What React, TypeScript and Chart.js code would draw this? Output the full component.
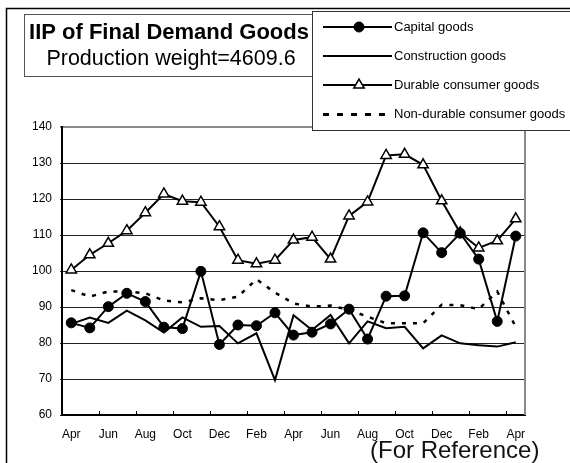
import React, { useEffect, useRef } from 'react';
import { Chart, registerables } from 'chart.js';

Chart.register(...registerables);

const months = ['Apr', 'May', 'Jun', 'Jul', 'Aug', 'Sep', 'Oct', 'Nov', 'Dec', 'Jan', 'Feb', 'Mar', 'Apr', 'May', 'Jun', 'Jul', 'Aug', 'Sep', 'Oct', 'Nov', 'Dec', 'Jan', 'Feb', 'Mar', 'Apr'];
const capitalGoods = [85.6, 84.2, 90.1, 93.8, 91.5, 84.4, 84.0, 99.9, 79.6, 85.0, 84.8, 88.4, 82.2, 83.0, 85.3, 89.4, 81.1, 93.0, 93.1, 110.6, 105.1, 110.5, 103.3, 86.0, 109.7];
const constructionGoods = [85.3, 87.1, 85.6, 89.0, 86.3, 82.9, 87.1, 84.5, 84.7, 79.9, 82.7, 69.7, 87.7, 83.6, 87.8, 79.9, 86.0, 84.1, 84.5, 78.5, 82.1, 79.9, 79.4, 79.0, 80.2];
const durableGoods = [100.3, 104.5, 107.7, 111.2, 116.2, 121.4, 119.4, 119.1, 112.3, 103.0, 102.0, 103.0, 108.6, 109.4, 103.3, 115.3, 119.2, 132.1, 132.4, 129.5, 119.5, 110.6, 106.4, 108.4, 114.5];
const nonDurableGoods = [94.7, 92.9, 94.3, 94.3, 93.8, 91.8, 91.3, 92.4, 91.9, 92.9, 97.7, 94.0, 91.0, 90.1, 90.4, 89.2, 87.3, 85.5, 85.5, 85.5, 90.6, 90.5, 89.4, 94.3, 84.5];
const yTicks = { min: 60, max: 140, step: 10 };

const titleText = 'IIP of Final Demand Goods';
const subtitleText = 'Production weight=4609.6';
const footerText = '(For Reference)';

const FONT = '"Liberation Sans", Arial, Helvetica, sans-serif';

function drawMarker(ctx: CanvasRenderingContext2D, style: string, x: number, y: number, r: number, fill: string, stroke: string, bw: number) {
  ctx.save();
  ctx.beginPath();
  if (style === 'circle') {
    ctx.arc(x, y, r, 0, Math.PI * 2);
  } else if (style === 'triangle') {
    let rad = 0;
    ctx.moveTo(x + Math.sin(rad) * r, y - Math.cos(rad) * r);
    rad += (2 * Math.PI) / 3;
    ctx.lineTo(x + Math.sin(rad) * r, y - Math.cos(rad) * r);
    rad += (2 * Math.PI) / 3;
    ctx.lineTo(x + Math.sin(rad) * r, y - Math.cos(rad) * r);
    ctx.closePath();
  }
  ctx.fillStyle = fill;
  ctx.fill();
  ctx.lineWidth = bw;
  ctx.strokeStyle = stroke;
  ctx.stroke();
  ctx.restore();
}

const decorPlugin = {
  id: 'decor',
  beforeDraw(chart: any) {
    const { ctx, width, height } = chart;
    ctx.save();
    ctx.fillStyle = '#fff';
    ctx.fillRect(0, 0, width, height);
    ctx.restore();
  },
  afterDraw(chart: any) {
    const { ctx, chartArea, scales } = chart;
    const xs = scales.x;
    ctx.save();
    // right border of plot
    ctx.strokeStyle = '#888';
    ctx.lineWidth = 2;
    ctx.beginPath();
    ctx.moveTo(chartArea.right, chartArea.top);
    ctx.lineTo(chartArea.right, chartArea.bottom);
    ctx.stroke();
    // inward tick marks on x axis every two categories
    ctx.strokeStyle = '#000';
    ctx.lineWidth = 1;
    for (let i = 2; i < months.length; i += 2) {
      const px = Math.round((xs.getPixelForValue(i - 1) + xs.getPixelForValue(i)) / 2) + 0.5;
      ctx.beginPath();
      ctx.moveTo(px, chartArea.bottom - 4);
      ctx.lineTo(px, chartArea.bottom);
      ctx.stroke();
    }
    // title box
    ctx.fillStyle = '#fff';
    ctx.fillRect(24.5, 14.5, 288, 62);
    ctx.strokeStyle = '#555';
    ctx.lineWidth = 1;
    ctx.strokeRect(24.5, 14.5, 288, 62);
    ctx.fillStyle = '#000';
    ctx.textAlign = 'center';
    ctx.textBaseline = 'alphabetic';
    ctx.font = `bold 22px ${FONT}`;
    ctx.fillText(titleText, 169, 39);
    ctx.font = `21.5px ${FONT}`;
    ctx.fillText(subtitleText, 171, 65);
    // legend box
    ctx.fillStyle = '#fff';
    ctx.fillRect(312.5, 11.5, 262, 119);
    ctx.strokeStyle = '#333';
    ctx.strokeRect(312.5, 11.5, 262, 119);
    const rows = [27, 56, 85, 114.5];
    chart.data.datasets.forEach((ds: any, i: number) => {
      const y = rows[i];
      ctx.save();
      ctx.strokeStyle = ds.borderColor;
      ctx.lineWidth = i === 3 ? 3 : 2;
      ctx.setLineDash(i === 3 ? [6, 8] : []);
      ctx.beginPath();
      ctx.moveTo(323, y);
      ctx.lineTo(i === 3 ? 386 : 392, y);
      ctx.stroke();
      ctx.restore();
      if (ds.pointRadius > 0) {
        drawMarker(ctx, ds.pointStyle, 359, y, ds.pointRadius, ds.pointBackgroundColor, ds.pointBorderColor, ds.pointBorderWidth);
      }
      ctx.fillStyle = '#000';
      ctx.textAlign = 'left';
      ctx.textBaseline = 'middle';
      ctx.font = `13px ${FONT}`;
      ctx.fillText(ds.label, 394, y);
    });
    // footer
    ctx.fillStyle = '#111';
    ctx.textAlign = 'left';
    ctx.textBaseline = 'alphabetic';
    ctx.font = `24px ${FONT}`;
    ctx.fillText(footerText, 370, 458);
    // outer frame
    ctx.strokeStyle = '#000';
    ctx.lineWidth = 1.5;
    ctx.strokeRect(6.5, 8.5, 600, 500);
    ctx.restore();
  },
};

export default function App() {
  const canvasRef = useRef<HTMLCanvasElement | null>(null);

  useEffect(() => {
    const canvas = canvasRef.current;
    if (!canvas) return;
    const chart = new Chart(canvas, {
      type: 'line',
      data: {
        labels: months,
        datasets: [
          {
            label: 'Capital goods',
            data: capitalGoods,
            borderColor: '#000',
            borderWidth: 2,
            pointStyle: 'circle',
            pointRadius: 5,
            pointBackgroundColor: '#000',
            pointBorderColor: '#000',
            pointBorderWidth: 1,
            tension: 0,
          },
          {
            label: 'Construction goods',
            data: constructionGoods,
            borderColor: '#000',
            borderWidth: 2,
            pointRadius: 0,
            tension: 0,
          },
          {
            label: 'Durable consumer goods',
            data: durableGoods,
            borderColor: '#000',
            borderWidth: 2,
            pointStyle: 'triangle',
            pointRadius: 6,
            pointBackgroundColor: '#fff',
            pointBorderColor: '#000',
            pointBorderWidth: 1.5,
            tension: 0,
          },
          {
            label: 'Non-durable consumer goods',
            data: nonDurableGoods,
            borderColor: '#000',
            borderWidth: 2.5,
            borderDash: [4, 7],
            pointRadius: 0,
            tension: 0,
          },
        ],
      },
      options: {
        responsive: false,
        animation: false,
        layout: { padding: { left: 0, right: 45, top: 127, bottom: 0 } },
        plugins: {
          legend: { display: false },
          tooltip: { enabled: false },
        },
        scales: {
          x: {
            type: 'category',
            offset: true,
            grid: { display: true, drawOnChartArea: false, drawTicks: false },
            border: { display: true, color: '#000', width: 2 },
            ticks: {
              autoSkip: false,
              maxRotation: 0,
              minRotation: 0,
              padding: 12,
              color: '#000',
              font: { family: FONT, size: 12 },
              callback: (_v: any, i: number) => (i % 2 === 0 ? months[i] : ''),
            },
            afterFit: (s: any) => {
              s.height = 48;
            },
          },
          y: {
            min: yTicks.min,
            max: yTicks.max,
            ticks: {
              stepSize: yTicks.step,
              padding: 8,
              color: '#000',
              font: { family: FONT, size: 12 },
            },
            grid: {
              color: (c: any) => (c.tick && c.tick.value === yTicks.max ? '#8c8c8c' : '#222'),
              lineWidth: (c: any) => (c.tick && c.tick.value === yTicks.max ? 2 : 1),
              tickLength: 2,
              drawTicks: true,
            },
            border: { color: '#000', width: 2 },
            afterFit: (s: any) => {
              s.width = 62;
            },
          },
        },
      },
      plugins: [decorPlugin],
    });
    return () => chart.destroy();
  }, []);

  return (
    <div style={{ position: 'absolute', left: 0, top: 0, width: 570, height: 463 }}>
      <canvas ref={canvasRef} width={570} height={463} style={{ width: 570, height: 463, display: 'block' }} />
    </div>
  );
}
